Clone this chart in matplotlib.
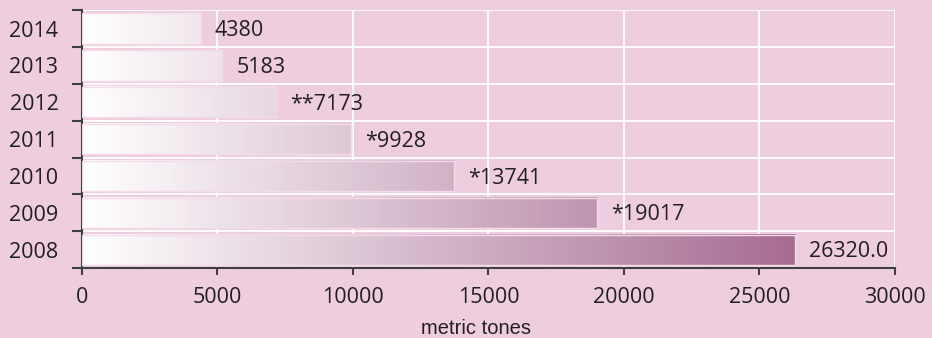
import numpy as np
import matplotlib
matplotlib.use("Agg")
import matplotlib.pyplot as plt
from matplotlib.colors import LinearSegmentedColormap

years = ["2014", "2013", "2012", "2011", "2010", "2009", "2008"]
values = [4380, 5183, 7173, 9928, 13741, 19017, 26320.0]
prefixes = ["", "", "**", "*", "*", "*", ""]
decimals = [0, 0, 0, 0, 0, 0, 1]
xticks = [0, 5000, 10000, 15000, 20000, 25000, 30000]
xlabel = "metric tones"

bg = "#EECEDE"
ink = "#231F20"
cmap = LinearSegmentedColormap.from_list("mauve", ["#FFFFFF", "#A66C91"])
fs = 15.5

plt.rcParams["font.family"] = ["Open Sans", "DejaVu Sans"]

fig = plt.figure(figsize=(9.32, 3.38), dpi=100, facecolor=bg)
ax = fig.add_axes([0.088, 0.207, 0.872, 0.763], facecolor=bg)

n = len(years)
ypos = np.arange(n)
bar_h = 0.82
vmax = max(values)

for y, v in zip(ypos, values):
    grad = np.linspace(0, v / vmax, 256).reshape(1, -1)
    ax.imshow(grad, cmap=cmap, vmin=0, vmax=1, aspect="auto",
              extent=(0, v, y + bar_h / 2, y - bar_h / 2),
              interpolation="bilinear", zorder=2)
    ax.add_patch(plt.Rectangle((0, y - bar_h / 2), v, bar_h, fill=False,
                               edgecolor="#F3DCE8", linewidth=1.0, zorder=3))

ax.set_xlim(0, 30000)
ax.set_ylim(n - 0.5, -0.5)

for y, v, p, d in zip(ypos, values, prefixes, decimals):
    ax.annotate(f"{p}{v:.{d}f}", xy=(v, y), xytext=(10, -1.5),
                textcoords="offset points", va="center", ha="left",
                fontsize=fs, color=ink, zorder=4)

# white grid at x ticks and category boundaries
for xt in xticks[1:]:
    ax.axvline(xt, color="white", linewidth=1.3, zorder=1)
for b in np.arange(-0.5, n - 0.5, 1.0):
    ax.axhline(b, color="white", linewidth=1.3, zorder=1)

ax.set_xticks(xticks)
ax.set_xticklabels([str(t) for t in xticks])
ax.set_yticks(np.arange(-0.5, n + 0.5, 1.0))
ax.set_yticklabels([])
ax.set_yticks(ypos, minor=True)
ax.set_yticklabels(years, minor=True)
ax.tick_params(axis="y", which="major", length=7, width=1.5, color="#404040")
ax.tick_params(axis="y", which="minor", length=0, pad=17, labelsize=fs,
               labelcolor=ink)
ax.tick_params(axis="x", length=5, width=1.5, color="#404040", pad=9,
               labelsize=fs, labelcolor=ink)

for s in ["top", "right"]:
    ax.spines[s].set_visible(False)
for s in ["left", "bottom"]:
    ax.spines[s].set_color("#404040")
    ax.spines[s].set_linewidth(1.5)

fig.text(0.511, 0.028, xlabel, ha="center", va="center", fontsize=14.5,
         color=ink, family=["Liberation Sans", "DejaVu Sans"])

fig.savefig("out.png", dpi=100, facecolor=bg)
